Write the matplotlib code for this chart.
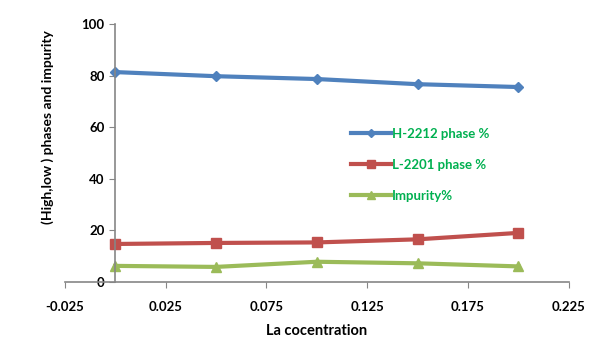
import matplotlib
matplotlib.use("Agg")
import matplotlib.pyplot as plt

# La concentration and phase fractions (%)
la = [0.0, 0.05, 0.10, 0.15, 0.20]
h2212 = [81.4, 79.8, 78.7, 76.7, 75.6]
l2201 = [14.7, 15.1, 15.3, 16.5, 19.0]
impurity = [6.2, 5.8, 7.8, 7.2, 6.0]

xticks = [-0.025, 0.025, 0.075, 0.125, 0.175, 0.225]
yticks = [0, 20, 40, 60, 80, 100]

plt.rcParams['font.family'] = ['Lato', 'DejaVu Sans']
plt.rcParams['font.weight'] = 'bold'

fig = plt.figure(figsize=(6.05, 3.4), dpi=100)
ax = fig.add_axes([0.107, 0.171, 0.833, 0.758])

ax.plot(la, h2212, color='#4F81BD', lw=3, marker='D', ms=5, label='H-2212 phase %')
ax.plot(la, l2201, color='#C0504D', lw=3, marker='s', ms=7, label='L-2201 phase %')
ax.plot(la, impurity, color='#9BBB59', lw=3, marker='^', ms=7, label='Impurity%')

ax.set_xlim(-0.025, 0.225)
ax.set_ylim(0, 100)
ax.set_xticks(xticks)
ax.set_xticklabels([f'{t:g}' for t in xticks])
ax.set_yticks(yticks)

ax.spines['left'].set_position(('data', 0))
ax.spines['top'].set_visible(False)
ax.spines['right'].set_visible(False)
for s in ('left', 'bottom'):
    ax.spines[s].set_color('#868686')
    ax.spines[s].set_linewidth(1.2)
ax.tick_params(axis='both', colors='#868686', labelcolor='black', labelsize=9.5, length=4)
ax.tick_params(axis='x', pad=10)

ax.set_xlabel('La cocentration', fontsize=10.5, fontweight='bold', labelpad=8)
fig.text(0.078, 0.625, '(High,low ) phases and impurity', rotation=90,
         ha='center', va='center', fontsize=10, fontweight='bold')

leg = ax.legend(loc='upper left', bbox_to_anchor=(0.545, 0.645), frameon=False,
                fontsize=9.5, handlelength=3.0, handletextpad=0.1, labelspacing=1.45,
                markerscale=0.8)
for t in leg.get_texts():
    t.set_color('#00B050')

fig.savefig('out.png', dpi=100)
